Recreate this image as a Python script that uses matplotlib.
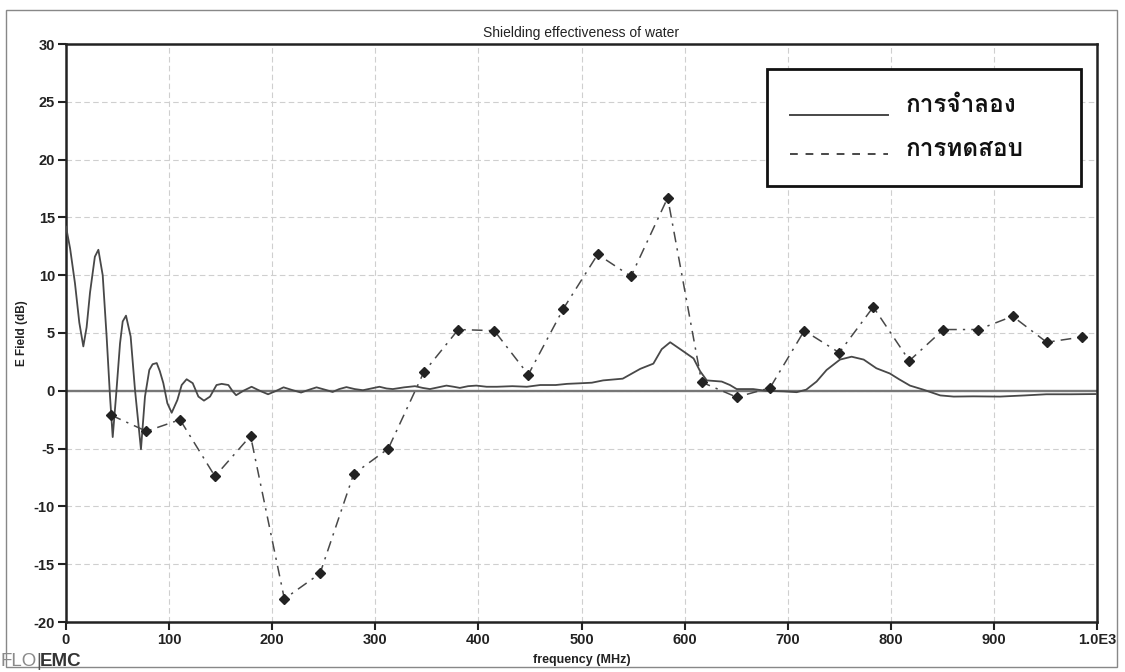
import matplotlib.pyplot as plt
import matplotlib as mpl
from matplotlib import font_manager
from matplotlib.ft2font import FT2Font
from matplotlib.lines import Line2D
from matplotlib.patches import Rectangle

mpl.rcParams['font.family'] = ['Liberation Sans', 'DejaVu Sans']
mpl.rcParams['axes.unicode_minus'] = False

# ---------- data ----------
# simulation: solid curve
sim_f = [0, 4, 8.7, 12.9, 16.8, 20, 23.3, 28, 31.4, 35.6, 39.4, 42.7, 45.3, 48.5,
         52.4, 55, 58.2, 62.7, 66.9, 72.7, 76.6, 80.8, 84, 88, 91, 94.4, 98.3,
         102.5, 108, 112.2, 117, 122.9, 128.4, 133.8, 139.7, 146, 151, 157.5,
         161.7, 165, 172, 180, 188, 196, 204, 211, 220, 228, 236, 243, 251,
         258.6, 265, 272, 280, 288, 296, 304, 311, 317, 328, 338.5, 346, 353,
         361, 369, 376, 382, 390, 398, 408, 418, 433, 447, 460, 475, 486, 498.5,
         510, 521, 540, 557, 569.7, 577.8, 586, 597.4, 608.7, 615, 621.5, 636,
         644, 650.5, 666.5, 679, 696, 708.7, 718, 728, 737.7, 750.7, 762, 773.7,
         786, 799, 808, 818.6, 831.5, 848, 861, 880, 906, 930, 951, 975, 1000]
sim_v = [14.2, 12.3, 9.3, 5.9, 3.84, 5.5, 8.5, 11.6, 12.2, 10.0, 4.7, -0.5, -4.0, -0.5,
         4.1, 6.0, 6.5, 4.7, 0.1, -5.06, -0.5, 1.8, 2.3, 2.4, 1.7, 0.66, -1.07,
         -1.9, -0.8, 0.5, 1.0, 0.66, -0.5, -0.85, -0.5, 0.5, 0.6, 0.5,
         -0.05, -0.38, 0.0, 0.35, 0.0, -0.3, 0.0, 0.3, 0.05, -0.15, 0.1, 0.3, 0.1,
         -0.1, 0.15, 0.32, 0.15, 0.05, 0.2, 0.35, 0.2, 0.15, 0.3, 0.4, 0.25, 0.15,
         0.3, 0.45, 0.35, 0.25, 0.4, 0.45, 0.35, 0.35, 0.4, 0.35, 0.5, 0.5, 0.6, 0.65,
         0.7, 0.9, 1.05, 1.9, 2.35, 3.6, 4.2, 3.5, 2.8, 1.7, 0.9, 0.8,
         0.5, 0.15, 0.15, 0.0, -0.05, -0.12, 0.1, 0.8, 1.8, 2.7, 2.95, 2.7,
         1.95, 1.5, 1.0, 0.45, 0.1, -0.4, -0.5, -0.48, -0.5, -0.4, -0.3, -0.3, -0.28]

# measurement: dashed line with diamond markers
meas_f = [43.6, 78, 110.6, 144.5, 179, 211.8, 246.4, 279, 312.6, 347, 380.5,
          415.4, 448.4, 482.4, 515.7, 548, 583.6, 616.5, 650.5, 682.8, 716.1,
          750, 783, 818, 851, 885, 918.2, 951.2, 985.1]
meas_v = [-2.1, -3.5, -2.5, -7.4, -3.9, -18.0, -15.8, -7.2, -5.0, 1.6, 5.3,
          5.2, 1.4, 7.1, 11.8, 9.9, 16.7, 0.75, -0.55, 0.25, 5.2,
          3.3, 7.25, 2.6, 5.3, 5.3, 6.45, 4.2, 4.65]

x_ticks = [0, 100, 200, 300, 400, 500, 600, 700, 800, 900, 1000]
x_tick_labels = ['0', '100', '200', '300', '400', '500', '600', '700', '800', '900', '1.0E3']
y_ticks = [-20, -15, -10, -5, 0, 5, 10, 15, 20, 25, 30]
legend_labels = ['การจำลอง', 'การทดสอบ']


# find an installed font that has Thai glyphs
def thai_font():
    for f in font_manager.fontManager.ttflist:
        try:
            cmap = FT2Font(f.fname).get_charmap()
        except Exception:
            continue
        if 0x0E01 in cmap and 0x0E33 in cmap and 0x0E1A in cmap:
            return f.name
    return 'DejaVu Sans'


thai = thai_font()

W, H = 1125, 672


def fx(px):
    return px / W


def fy(py):
    return 1 - py / H


fig = plt.figure(figsize=(11.25, 6.72), dpi=100)
fig.patches.append(Rectangle((fx(6), fy(667)), fx(1111), 657 / H,
                             transform=fig.transFigure, fill=False,
                             edgecolor='#888888', linewidth=1.0))

ax = fig.add_axes([fx(66), fy(622), fx(1031), 578 / H])

ax.grid(True, color='#cfcfcf', linestyle=(0, (5, 3)), linewidth=0.8)
ax.axhline(0, color='#777777', linewidth=1.7, zorder=2)

ax.plot(sim_f, sim_v, color='#484848', linewidth=1.3, zorder=3)
ax.plot(meas_f, meas_v, color='#484848', linewidth=1.1, linestyle=(0, (7, 4, 1.5, 4)),
        marker='D', markersize=5, markerfacecolor='#222222',
        markeredgecolor='#222222', zorder=4)

ax.set_xlim(0, 1000)
ax.set_ylim(-20, 30)
ax.set_xticks(x_ticks)
ax.set_xticklabels(x_tick_labels)
ax.set_yticks(y_ticks)
for s in ax.spines.values():
    s.set_linewidth(1.8)
    s.set_color('#222222')
ax.tick_params(direction='out', length=6, width=1.5, colors='#222222',
               labelsize=10.5, pad=2)
for lab in ax.get_xticklabels() + ax.get_yticklabels():
    lab.set_fontweight('bold')

ax.set_title('Shielding effectiveness of water', fontsize=10, pad=5, color='#222222')
ax.set_xlabel('frequency (MHz)', fontsize=9, fontweight='bold', labelpad=5,
              color='#222222')
ax.set_ylabel('E Field (dB)', fontsize=8.5, fontweight='bold', labelpad=4,
              color='#222222')

# legend box drawn by hand to match its spacing
fig.patches.append(Rectangle((fx(767), fy(186)), (1081 - 767) / W, (186 - 69) / H,
                             transform=fig.transFigure, facecolor='white',
                             edgecolor='#111111', linewidth=2.0, zorder=5))
leg_styles = ['-', (0, (4, 4))]
leg_rows = [(115, 106), (154, 149)]
for lab, ls, (ly, ty) in zip(legend_labels, leg_styles, leg_rows):
    fig.lines.append(Line2D([fx(790), fx(888)], [fy(ly), fy(ly)], transform=fig.transFigure,
                            color='#484848', linewidth=1.4, linestyle=ls, zorder=6))
    fig.text(fx(906), fy(ty), lab, family=[thai, 'DejaVu Sans'], fontsize=17.5,
             fontweight='bold', color='#111111', va='center', ha='left', zorder=6)

fig.text(fx(0), fy(661), 'FLO', fontsize=13.5, color='#8a8a8a',
         va='center', ha='left')
fig.text(fx(36), fy(661), '|', fontsize=13.5, color='#555555',
         va='center', ha='left')
fig.text(fx(40), fy(661), 'EMC', fontsize=13.5, color='#333333',
         fontweight='bold', va='center', ha='left')

fig.savefig('out.png', dpi=100)
plt.close(fig)
